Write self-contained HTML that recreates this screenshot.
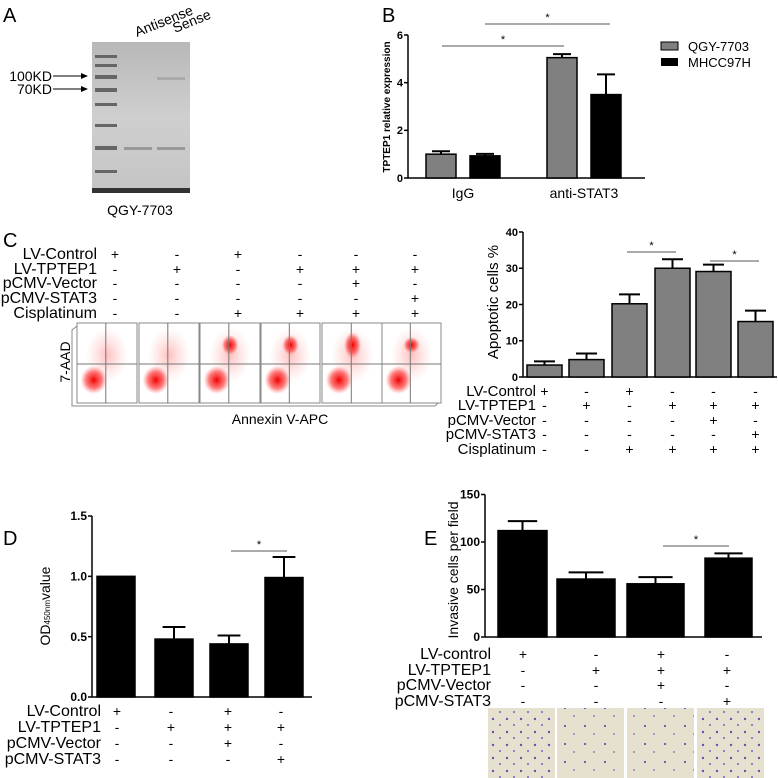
<!DOCTYPE html>
<html><head><meta charset="utf-8"><style>
body{margin:0;background:#fff}
svg{display:block;font-family:"Liberation Sans",sans-serif}
</style></head><body>
<svg id="s" width="778" height="778" viewBox="0 0 778 778">
<defs>
<radialGradient id="blob"><stop offset="0" stop-color="#e00" stop-opacity="1"/><stop offset="0.6" stop-color="#f22" stop-opacity="0.6"/><stop offset="1" stop-color="#f55" stop-opacity="0"/></radialGradient>
<radialGradient id="haze"><stop offset="0" stop-color="#f44" stop-opacity="0.35"/><stop offset="1" stop-color="#f88" stop-opacity="0"/></radialGradient>
<pattern id="cells" width="14" height="13" patternUnits="userSpaceOnUse"><circle cx="3" cy="4" r="1.2" fill="#6a4fb0"/><circle cx="10" cy="10" r="1" fill="#7a5fc0"/></pattern>
<pattern id="cells2" width="20" height="18" patternUnits="userSpaceOnUse"><circle cx="5" cy="6" r="1.1" fill="#6a4fb0"/><circle cx="14" cy="14" r="0.9" fill="#7a5fc0"/></pattern>
<linearGradient id="gel" x1="0" y1="0" x2="0" y2="1"><stop offset="0" stop-color="#b8b8b8"/><stop offset="0.5" stop-color="#cfcfcf"/><stop offset="1" stop-color="#c4c4c4"/></linearGradient>
</defs>

<!-- Panel A -->
<g>
<text x="3" y="22" font-size="20">A</text>
<rect x="92" y="42" width="98" height="151" fill="url(#gel)"/>
<g fill="#666">
<rect x="95" y="55" width="22" height="3"/><rect x="95" y="64" width="22" height="3"/><rect x="95" y="75" width="22" height="4"/><rect x="95" y="88" width="22" height="4"/><rect x="95" y="103" width="22" height="3"/><rect x="95" y="124" width="22" height="3"/><rect x="95" y="146" width="22" height="4"/><rect x="95" y="170" width="22" height="3"/>
</g>
<rect x="124" y="147" width="28" height="3" fill="#999"/><rect x="157" y="147" width="28" height="3" fill="#999"/>
<rect x="157" y="77" width="28" height="3" fill="#aaa"/>
<rect x="92" y="188" width="98" height="5" fill="#333"/>
<text x="52" y="81" font-size="14" text-anchor="end">100KD</text>
<text x="52" y="94" font-size="14" text-anchor="end">70KD</text>
<line x1="53" y1="76" x2="86" y2="76" stroke="#000"/><polygon points="88,76 81,73 81,79"/>
<line x1="53" y1="89" x2="86" y2="89" stroke="#000"/><polygon points="88,89 81,86 81,92"/>
<text x="137" y="37" font-size="14" transform="rotate(-22 137 37)">Antisense</text>
<text x="175" y="33" font-size="14" transform="rotate(-22 175 33)">Sense</text>
<text x="140" y="215" font-size="14" text-anchor="middle">QGY-7703</text>
</g>

<!-- Panel B -->
<g id="pb">
<text x="382" y="22" font-size="20">B</text>
<text transform="translate(390 107) rotate(-90)" font-size="10" font-weight="bold" text-anchor="middle">TPTEP1 relative expression</text>
<rect x="661" y="42" width="17" height="8" fill="#808080" stroke="#000"/>
<text x="688" y="51" font-size="13">QGY-7703</text>
<rect x="661" y="58" width="17" height="8" fill="#000"/>
<text x="688" y="67" font-size="13">MHCC97H</text>
</g>

<!-- Panel C -->
<g id="pc">
<text x="3" y="247" font-size="20">C</text>
<text transform="translate(70 362) rotate(-90)" font-size="14" text-anchor="middle">7-AAD</text>
<polyline points="77,326 72,330 72,406 435,406 439,402" fill="none" stroke="#888"/>
<text x="280" y="424" font-size="14" text-anchor="middle">Annexin V-APC</text>
<text transform="translate(498 302) rotate(-90)" font-size="15" text-anchor="middle">Apoptotic cells %</text>
</g>

<!-- Panel D -->
<g id="pd">
<text x="3" y="545" font-size="20">D</text>
<text transform="translate(50 606) rotate(-90)" font-size="14" text-anchor="middle">OD<tspan font-size="8">450nm</tspan>value</text>
</g>

<!-- Panel E -->
<g id="pe">
<text x="424" y="545" font-size="20">E</text>
<text transform="translate(458 570) rotate(-90)" font-size="14" text-anchor="middle">Invasive cells per field</text>
</g>
</svg>
<script>
const NS='http://www.w3.org/2000/svg';
function mk(p,tag,a,txt){const e=document.createElementNS(NS,tag);for(const k in a)e.setAttribute(k,a[k]);if(txt!==undefined)e.textContent=txt;p.appendChild(e);return e;}

// ---------- Panel B data ----------
const bGroups=['IgG','anti-STAT3'];
const bQGY=[1.0,5.05];
const bQGYerr=[0.12,0.15];
const bMHCC=[0.93,3.5];
const bMHCCerr=[0.08,0.85];
const bTicks=[0,2,4,6];

// ---------- Panel C data ----------
const cValues=[3.3,4.8,20.2,30.0,29.1,15.3];
const cErr=[1.0,1.7,2.6,2.5,1.9,3.0];
const cTicks=[0,10,20,30,40];
const cRowLabels=['LV-Control','LV-TPTEP1','pCMV-Vector','pCMV-STAT3','Cisplatinum'];
const cSigns=[['+','-','+','-','-','-'],['-','+','-','+','+','+'],['-','-','-','-','+','-'],['-','-','-','-','-','+'],['-','-','+','+','+','+']];

// ---------- Panel D data ----------
const dValues=[1.0,0.48,0.44,0.99];
const dErr=[0,0.1,0.07,0.17];
const dTicks=[0.0,0.5,1.0,1.5];
const dRowLabels=['LV-Control','LV-TPTEP1','pCMV-Vector','pCMV-STAT3'];
const dSigns=[['+','-','+','-'],['-','+','+','+'],['-','-','+','-'],['-','-','-','+']];

// ---------- Panel E data ----------
const eValues=[112,61,56,83];
const eErr=[10,7,7,5];
const eTicks=[0,50,100,150];
const eRowLabels=['LV-control','LV-TPTEP1','pCMV-Vector','pCMV-STAT3'];

function bar(g,name,x,w,y0,yv,ye,fill){
  const r=mk(g,'rect',{x:x,y:yv,width:w,height:y0-yv,fill:fill,stroke:'#000','stroke-width':1.5});
  
  
  if(ye<yv-0.5){mk(g,'line',{x1:x+w/2,y1:yv,x2:x+w/2,y2:ye,stroke:'#000','stroke-width':2});
  mk(g,'line',{x1:x+w/2-w*0.3,y1:ye,x2:x+w/2+w*0.3,y2:ye,stroke:'#000','stroke-width':2});}
}
function yaxis(g,x,y0,y1,ticks,sc,fs,fmt){
  mk(g,'line',{x1:x,y1:y0,x2:x,y2:y1,stroke:'#000','stroke-width':1.5});
  ticks.forEach(t=>{const y=sc(t);mk(g,'line',{x1:x-4,y1:y,x2:x,y2:y,stroke:'#000','stroke-width':1.5});
    const tl=mk(g,'text',{x:x-5,y:y+fs*0.35,'font-size':fs,'font-weight':'bold','text-anchor':'end'},fmt?fmt(t):t);
    
    });
}
function sig(g,x1,x2,y){mk(g,'line',{x1:x1,y1:y,x2:x2,y2:y,stroke:'#555'});mk(g,'text',{x:(x1+x2)/2,y:y-3,'font-size':11,'text-anchor':'middle'},'*');}

// Panel B draw
(function(){
 const g=document.getElementById('pb');
 const y0=178,yTop=35,max=6,sc=v=>y0-(y0-yTop)*v/max;
 yaxis(g,408,y0,yTop,bTicks,sc,11);
 mk(g,'line',{x1:408,y1:y0,x2:645,y2:y0,stroke:'#000','stroke-width':1.5});
 const gx=[426,547],w=30,gap=44;
 bGroups.forEach((n,i)=>{
   bar(g,'bar-qgy-'+n,gx[i],w,y0,sc(bQGY[i]),sc(bQGY[i]+bQGYerr[i]),'#808080');
   bar(g,'bar-mhcc-'+n,gx[i]+gap,w,y0,sc(bMHCC[i]),sc(bMHCC[i]+bMHCCerr[i]),'#000');
   const t=mk(g,'text',{x:gx[i]+(gap+w)/2,y:198,'font-size':14,'text-anchor':'middle'},n);
   
   
 });
 sig(g,442,564,46);sig(g,485,610,24);
})();

// Panel C draw
(function(){
 const g=document.getElementById('pc');
 const rowsY=[259,274,288,303,318],colX=[115,177,238,300,356,415];
 cRowLabels.forEach((l,r)=>{
   const t=mk(g,'text',{x:97,y:rowsY[r],'font-size':16,'text-anchor':'end'},l);
   
   
   cSigns[r].forEach((s,c)=>mk(g,'text',{x:colX[c],y:rowsY[r],'font-size':14,'text-anchor':'middle'},s));
 });
 const px=[77,139,200,261,322,382],pw=[60,60,60,59,61,59];
 const upper=[0,0,1,1,1.3,0.8];
 px.forEach((x,i)=>{
   const w=pw[i];
   const p=mk(g,'g',{});
   
   
   mk(p,'rect',{x:x,y:323,width:w,height:80,fill:'#fff',stroke:'#888'});
   mk(p,'ellipse',{cx:x+w*0.5,cy:355,rx:w*0.35,ry:28,fill:'url(#haze)'});
   mk(p,'ellipse',{cx:x+w*0.28,cy:380,rx:w*0.22,ry:14,fill:'url(#blob)'});
   if(upper[i]>0)mk(p,'ellipse',{cx:x+w*0.5,cy:345,rx:w*0.14,ry:10*upper[i],fill:'url(#blob)'});
   mk(p,'line',{x1:x+w*0.48,y1:323,x2:x+w*0.48,y2:403,stroke:'#777'});
   mk(p,'line',{x1:x,y1:364,x2:x+w,y2:364,stroke:'#777'});
 });
 const y0=377,yTop=232,max=40,sc=v=>y0-(y0-yTop)*v/max;
 yaxis(g,523,y0,yTop,cTicks,sc,11);
 mk(g,'line',{x1:523,y1:y0,x2:777,y2:y0,stroke:'#000','stroke-width':1.5});
 const bx=[527,569,612,655,696,738],w=35;
 cValues.forEach((v,i)=>bar(g,'bar-apoptotic-'+(i+1),bx[i],w,y0,sc(v),sc(v+cErr[i]),'#808080'));
 sig(g,627,676,252);sig(g,710,759,261);
 const ry=[396,410,425,439,454],cx=bx.map(x=>x+w/2);
 cRowLabels.forEach((l,r)=>{
   const t=mk(g,'text',{x:536,y:ry[r],'font-size':15,'text-anchor':'end'},l);
   
   
   cSigns[r].forEach((s,c)=>mk(g,'text',{x:cx[c],y:ry[r],'font-size':14,'text-anchor':'middle'},s));
 });
})();

// Panel D draw
(function(){
 const g=document.getElementById('pd');
 const y0=697,yTop=516,max=1.5,sc=v=>y0-(y0-yTop)*v/max;
 yaxis(g,92,y0,yTop,dTicks,sc,12,t=>t.toFixed(1));
 mk(g,'line',{x1:92,y1:y0,x2:312,y2:y0,stroke:'#000','stroke-width':1.5});
 const bx=[97,155,210,265],w=38;
 dValues.forEach((v,i)=>bar(g,'bar-od-'+(i+1),bx[i],w,y0,sc(v),sc(v+dErr[i]),'#000'));
 sig(g,231,287,551);
 const ry=[716,732,748,764],cx=[117,171,228,281];
 dRowLabels.forEach((l,r)=>{
   const t=mk(g,'text',{x:101,y:ry[r],'font-size':16,'text-anchor':'end'},l);
   
   
   dSigns[r].forEach((s,c)=>mk(g,'text',{x:cx[c],y:ry[r],'font-size':14,'text-anchor':'middle'},s));
 });
})();

// Panel E draw
(function(){
 const g=document.getElementById('pe');
 const y0=637,y100=542,sc=v=>y0-(y0-y100)*v/100;
 yaxis(g,485,y0,sc(150),eTicks,sc,12);
 mk(g,'line',{x1:485,y1:y0,x2:762,y2:y0,stroke:'#000','stroke-width':1.5});
 const bx=[498,557,627,705],w=[49,58,57,47];
 eValues.forEach((v,i)=>bar(g,'bar-invasive-'+(i+1),bx[i],w[i],y0,sc(v),sc(v+eErr[i]),'#000'));
 sig(g,663,729,546);
 const ry=[659,675,690,706],cx=[523,596,661,727];
 eRowLabels.forEach((l,r)=>{
   const t=mk(g,'text',{x:491,y:ry[r],'font-size':16,'text-anchor':'end'},l);
   
   
   dSigns[r].forEach((s,c)=>mk(g,'text',{x:cx[c],y:ry[r],'font-size':14,'text-anchor':'middle'},s));
 });
 const ix=[488,557,627,697],pats=['cells','cells2','cells2','cells'];
 ix.forEach((x,i)=>{
   const im=mk(g,'g',{});
   
   
   mk(im,'rect',{x:x,y:708,width:67,height:70,fill:'#e6e1cf'});
   mk(im,'rect',{x:x,y:708,width:67,height:70,fill:'url(#'+pats[i]+')'});
 });
})();
</script>
</body></html>
